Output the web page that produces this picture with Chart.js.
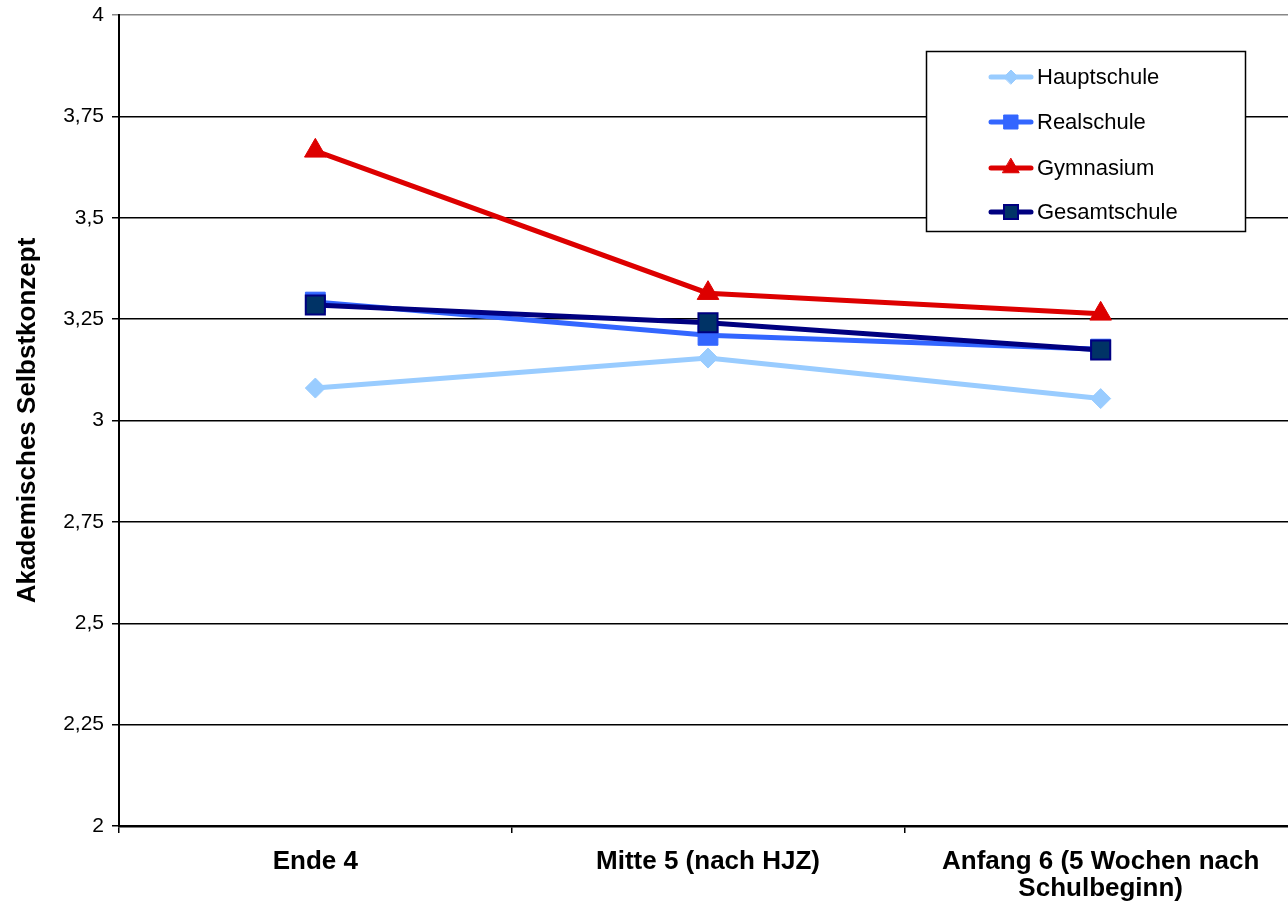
<!DOCTYPE html>
<html><head><meta charset="utf-8">
<script src="https://cdn.jsdelivr.net/npm/chart.js@4/dist/chart.umd.min.js"></script>
<style>
html,body{margin:0;padding:0;background:#fff;overflow:hidden;}
#wrap{width:1288px;height:906px;overflow:hidden;position:relative;background:#fff;}
#inner{position:absolute;left:0;top:0;width:1298px;height:906px;}
</style></head><body>
<div id="wrap"><div id="inner"><canvas id="c"></canvas></div></div>
<script>
const categories = ["Ende 4", "Mitte 5 (nach HJZ)", ["Anfang 6 (5 Wochen nach", "Schulbeginn)"]];
const seriesNames = ["Hauptschule", "Realschule", "Gymnasium", "Gesamtschule"];
const hauptschule = [3.080, 3.154, 3.054];
const realschule = [3.292, 3.210, 3.176];
const gymnasium = [3.665, 3.314, 3.263];
const gesamtschule = [3.285, 3.241, 3.174];
const yTicks = [2, 2.25, 2.5, 2.75, 3, 3.25, 3.5, 3.75, 4];
const yTitle = "Akademisches Selbstkonzept";

const FONT = "'Liberation Sans', Arial, sans-serif";

const legendPlugin = {
  id: 'boxLegend',
  afterDraw(chart) {
    const ctx = chart.ctx;
    ctx.save();
    ctx.strokeStyle = '#000';
    ctx.lineWidth = 1.5;
    ctx.fillStyle = '#fff';
    ctx.fillRect(926, 51, 320, 181);
    ctx.strokeRect(926.5, 51.5, 319, 180);
    const ys = [77, 122, 168, 212];
    chart.data.datasets.forEach((ds, i) => {
      const y = ys[i];
      ctx.strokeStyle = ds.borderColor;
      ctx.lineWidth = 5;
      ctx.lineCap = 'round';
      ctx.beginPath(); ctx.moveTo(991, y); ctx.lineTo(1031, y); ctx.stroke();
      const cx = 1011;
      ctx.fillStyle = ds.pointBackgroundColor;
      ctx.strokeStyle = ds.pointBorderColor;
      ctx.lineWidth = ds.pointBorderWidth;
      ctx.beginPath();
      if (ds.pointStyle === 'rectRot') {
        const r = 7;
        ctx.moveTo(cx - r, y); ctx.lineTo(cx, y - r); ctx.lineTo(cx + r, y); ctx.lineTo(cx, y + r); ctx.closePath();
      } else if (ds.pointStyle === 'triangle') {
        const r = 9.5;
        ctx.moveTo(cx, y - r); ctx.lineTo(cx + r * 0.866, y + r / 2); ctx.lineTo(cx - r * 0.866, y + r / 2); ctx.closePath();
      } else {
        const h = 7;
        ctx.rect(cx - h, y - h, 2 * h, 2 * h);
      }
      ctx.fill(); ctx.stroke();
      ctx.fillStyle = '#000';
      ctx.font = "22px " + FONT;
      ctx.textBaseline = 'middle';
      ctx.textAlign = 'left';
      ctx.fillText(ds.label, 1037, y + 1);
    });
    ctx.restore();
  }
};

new Chart(document.getElementById('c'), {
  type: 'line',
  data: {
    labels: categories,
    datasets: [
      { label: seriesNames[0], data: hauptschule, borderColor: '#99CCFF', backgroundColor: '#99CCFF',
        pointBackgroundColor: '#99CCFF', pointBorderColor: '#99CCFF', pointStyle: 'rectRot', pointRadius: 10,
        pointBorderWidth: 1, borderWidth: 5, order: 4 },
      { label: seriesNames[1], data: realschule, borderColor: '#3366FF', backgroundColor: '#3366FF',
        pointBackgroundColor: '#3366FF', pointBorderColor: '#3366FF', pointStyle: 'rect', pointRadius: 14,
        pointBorderWidth: 1, borderWidth: 5, order: 3 },
      { label: seriesNames[2], data: gymnasium, borderColor: '#DD0000', backgroundColor: '#DD0000',
        pointBackgroundColor: '#DD0000', pointBorderColor: '#DD0000', pointStyle: 'triangle', pointRadius: 12.5,
        pointBorderWidth: 1, borderWidth: 5, order: 2 },
      { label: seriesNames[3], data: gesamtschule, borderColor: '#000080', backgroundColor: '#003366',
        pointBackgroundColor: '#003366', pointBorderColor: '#000080', pointStyle: 'rect', pointRadius: 13.5,
        pointBorderWidth: 2, borderWidth: 5, order: 1 }
    ]
  },
  options: {
    responsive: true,
    maintainAspectRatio: false,
    animation: false,
    devicePixelRatio: 1,
    layout: { autoPadding: false, padding: { top: 15, right: 1, left: 0, bottom: 0 } },
    plugins: { legend: { display: false }, tooltip: { enabled: false }, title: { display: false } },
    elements: { line: { tension: 0 } },
    scales: {
      x: {
        type: 'category',
        offset: true,
        grid: { offset: true, drawOnChartArea: false, drawTicks: true, tickLength: 7, color: '#000', lineWidth: 1.5 },
        border: { display: true, color: '#000', width: 2.5 },
        ticks: { color: '#000', font: { family: FONT, size: 26, weight: 'bold', lineHeight: 1.05 },
                 padding: 15, maxRotation: 0, minRotation: 0, autoSkip: false },
        afterFit: s => { s.height = 80; s.paddingLeft = 0; s.paddingRight = 0; }
      },
      y: {
        min: 2, max: 4,
        afterBuildTicks: s => { s.ticks = yTicks.map(v => ({ value: v })); },
        grid: { color: c => (c.tick && c.tick.value === 4) ? '#888' : '#000', lineWidth: 1.5, drawTicks: true, tickLength: 7 },
        border: { display: true, color: '#000', width: 2 },
        ticks: { color: '#000', font: { family: FONT, size: 21 }, padding: 8,
                 callback: v => String(v).replace('.', ',') },
        title: { display: true, text: yTitle, color: '#000', font: { family: FONT, size: 26, weight: 'bold' },
                 padding: { top: 12, bottom: 0 } },
        afterFit: s => { s.width = 119; s.paddingTop = 0; s.paddingBottom = 0; }
      }
    }
  },
  plugins: [legendPlugin]
});
</script>
</body></html>
